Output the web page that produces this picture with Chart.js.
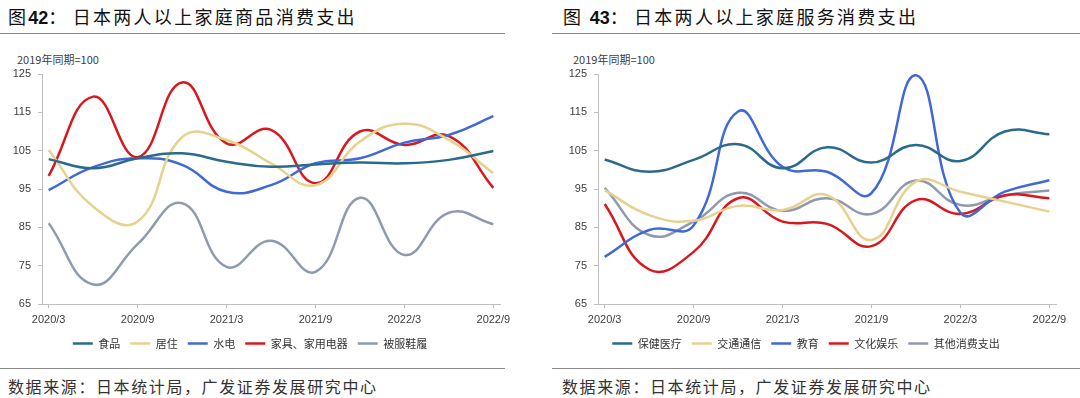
<!DOCTYPE html>
<html>
<head>
<meta charset="utf-8">
<script src="https://cdn.jsdelivr.net/npm/chart.js@4.4.0/dist/chart.umd.min.js"></script>
<style>
    body {
        margin: 0;
        width: 1080px;
        height: 398px;
        background: #fff;
        position: relative;
        overflow: hidden;
        font-family: "Noto Sans CJK SC", sans-serif;
    }
    .title {
        position: absolute;
        top: 3px;
        font-size: 18px;
        letter-spacing: 2.3px;
        color: #111;
        white-space: nowrap;
    }
    .title b {
        font-family: "Liberation Sans", Arial, sans-serif;
        letter-spacing: 0;
    }
    .title span {
        margin-left: 4px;
    }
    .rule {
        position: absolute;
        height: 0;
        border-top: 1.2px solid #8a8a8a;
    }
    .unit {
        position: absolute;
        top: 51px;
        font-size: 11px;
        color: #404040;
        white-space: nowrap;
    }
    .source {
        position: absolute;
        top: 374px;
        font-size: 16px;
        letter-spacing: 1.6px;
        color: #333;
        white-space: nowrap;
    }
    .box {
        position: absolute;
        top: 40px;
        width: 520px;
        height: 319px;
    }
</style>
</head>
<body>
<div class="title" style="left:8px;">图<b>42</b>：<span>日本两人以上家庭商品消费支出</span></div>
<div class="rule" style="left:0; width:505px; top:33px;"></div>
<div class="unit" style="left:17px;">2019年同期=100</div>
<div class="box" style="left:0;"><canvas id="goodsChart"></canvas></div>
<div class="rule" style="left:0; width:505px; top:368px;"></div>
<div class="source" style="left:8px;">数据来源：日本统计局，广发证券发展研究中心</div>

<div class="title" style="left:563px;">图 <b>43</b>：<span>日本两人以上家庭服务消费支出</span></div>
<div class="rule" style="left:552px; width:528px; top:33px;"></div>
<div class="unit" style="left:573px;">2019年同期=100</div>
<div class="box" style="left:556px;"><canvas id="serviceChart"></canvas></div>
<div class="rule" style="left:552px; width:528px; top:368px;"></div>
<div class="source" style="left:562px;">数据来源：日本统计局，广发证券发展研究中心</div>

<script>
// Quarterly data, 2019 same period = 100
const quarters = ['2020/3', '2020/6', '2020/9', '2020/12', '2021/3', '2021/6',
    '2021/9', '2021/12', '2022/3', '2022/6', '2022/9'];

// 图42 商品
const food = [102.8, 100.4, 103.0, 104.3, 102.1, 100.8, 101.4, 101.9, 101.7, 102.6, 104.9];
const housing = [105.2, 90.4, 86.5, 108.5, 107.8, 101.7, 96.0, 107.4, 112.0, 107.8, 99.1];
const utilities = [94.7, 100.7, 103.0, 101.3, 94.3, 96.0, 101.7, 103.0, 107.1, 109.1, 114.0];
const furniture = [98.4, 119.1, 103.3, 122.8, 106.9, 110.4, 96.5, 110.0, 106.5, 108.8, 95.3];
const clothing = [86.1, 70.1, 80.6, 91.3, 74.7, 81.5, 73.4, 92.7, 77.8, 88.8, 85.8];

// 图43 服务
const medical = [102.7, 99.5, 102.6, 106.7, 100.4, 105.9, 101.9, 106.5, 102.3, 110.0, 109.3];
const transport = [94.7, 88.2, 86.7, 90.6, 89.5, 93.4, 81.7, 96.9, 94.3, 91.7, 89.1];
const education = [77.3, 84.3, 85.5, 115.2, 100.8, 99.5, 93.9, 124.7, 88.8, 94.3, 97.3];
const culture = [91.1, 74.0, 78.6, 92.6, 86.5, 85.9, 80.1, 92.1, 88.5, 93.3, 92.6];
const otherSpend = [95.3, 83.0, 86.5, 94.0, 89.3, 92.6, 88.5, 97.2, 90.8, 93.4, 94.6];

const yMin = 65;
const yMax = 125;
const yStep = 10;

const colors = ['#2b6a8c', '#e6d28e', '#4169d6', '#d7191f', '#8f9ab0'];
const axisColor = '#bfbfbf';
const textColor = '#404040';

function makeChart(id, names, series) {
    const ctx = document.getElementById(id);
    new Chart(ctx, {
        type: 'line',
        data: {
            datasets: series.map((values, k) => ({
                label: names[k],
                data: values.map((v, i) => ({ x: i, y: v })),
                borderColor: colors[k],
                backgroundColor: colors[k],
                borderWidth: 2.5,
                pointRadius: 0,
                tension: 0.45,
                fill: false
            }))
        },
        options: {
            responsive: true,
            maintainAspectRatio: false,
            animation: false,
            layout: {
                padding: { top: 34, right: 20, bottom: 0, left: 0 }
            },
            plugins: {
                legend: {
                    position: 'bottom',
                    labels: {
                        usePointStyle: true,
                        pointStyle: 'line',
                        pointStyleWidth: 20,
                        padding: 10,
                        color: '#333',
                        font: { size: 11, family: '"Noto Sans CJK SC"' }
                    }
                },
                tooltip: { enabled: false }
            },
            scales: {
                x: {
                    type: 'linear',
                    min: -0.15,
                    max: quarters.length - 1 + 0.15,
                    afterFit: function (scale) {
                        scale.height = 24;
                    },
                    border: { color: axisColor },
                    grid: {
                        drawOnChartArea: false,
                        tickLength: 4,
                        color: axisColor
                    },
                    ticks: {
                        stepSize: 2,
                        includeBounds: false,
                        autoSkip: false,
                        maxRotation: 0,
                        padding: 5,
                        color: textColor,
                        font: { size: 11, family: '"Liberation Sans", Arial' },
                        callback: function (value) {
                            return quarters[value];
                        }
                    }
                },
                y: {
                    min: yMin,
                    max: yMax,
                    afterFit: function (scale) {
                        scale.width = 42;
                    },
                    border: { color: axisColor },
                    grid: {
                        drawOnChartArea: false,
                        tickLength: 4,
                        color: axisColor
                    },
                    ticks: {
                        stepSize: yStep,
                        padding: 7,
                        color: textColor,
                        font: { size: 11, family: '"Liberation Sans", Arial' }
                    }
                }
            }
        }
    });
}

makeChart('goodsChart', ['食品', '居住', '水电', '家具、家用电器', '被服鞋履'],
    [food, housing, utilities, furniture, clothing]);
makeChart('serviceChart', ['保健医疗', '交通通信', '教育', '文化娱乐', '其他消费支出'],
    [medical, transport, education, culture, otherSpend]);
</script>
</body>
</html>
